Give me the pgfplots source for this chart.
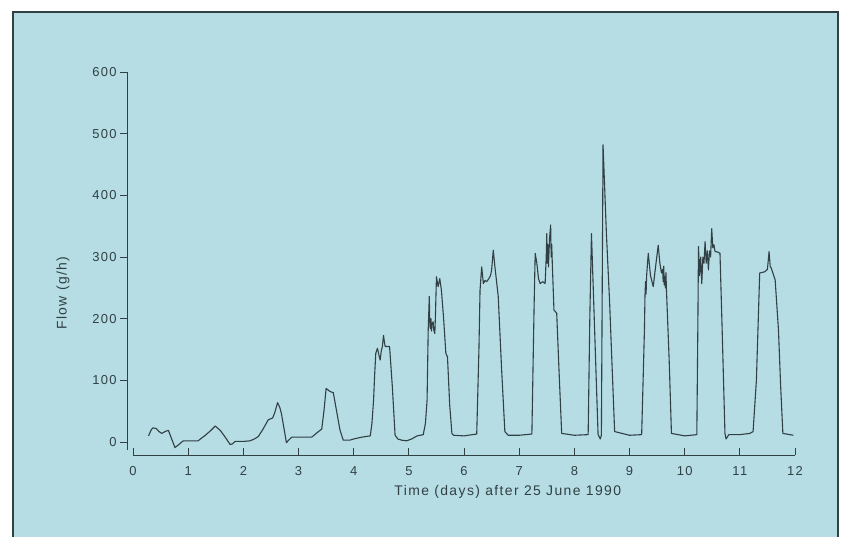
\documentclass[border=0pt]{standalone}
\usepackage{fontspec}
\setmainfont{Liberation Sans}[LetterSpace=10]
\usepackage{pgfplots}
\pgfplotsset{compat=1.18}
\definecolor{bg}{RGB}{182,221,227}
\definecolor{ink}{RGB}{48,64,68}
\pgfplotstableread{
x y
0.28 10
0.33 20
0.36 23
0.42 22
0.47 17
0.52 14
0.58 17
0.64 19
0.70 5
0.76 -9
0.83 -4
0.91 2
1.05 2
1.18 2
1.25 7
1.31 11
1.40 18
1.49 26
1.54 22
1.58 19
1.67 8
1.76 -4
1.80 -3
1.85 1
2.00 1
2.12 2
2.20 5
2.27 9
2.35 20
2.45 36
2.53 39
2.57 48
2.62 64
2.66 56
2.69 46
2.74 20
2.78 -1
2.83 4
2.88 8
3.05 8
3.24 8
3.32 14
3.39 19
3.42 21
3.46 50
3.50 87
3.54 84
3.57 82
3.63 80
3.68 55
3.75 20
3.81 3
3.93 3
4.00 5
4.15 8
4.30 10
4.33 30
4.36 68
4.38 110
4.40 144
4.43 152
4.46 140
4.48 133
4.50 148
4.52 155
4.54 173
4.56 160
4.57 155
4.65 155
4.70 90
4.75 11
4.80 5
4.87 3
4.96 2
5.05 5
5.15 10
5.26 12
5.30 30
5.33 68
5.35 180
5.37 236
5.38 190
5.39 184
5.40 200
5.41 180
5.42 192
5.44 195
5.45 182
5.47 176
5.48 200
5.50 268
5.53 252
5.56 265
5.59 246
5.63 200
5.67 144
5.70 138
5.74 60
5.78 14
5.81 11
6.00 10
6.23 13
6.27 150
6.29 246
6.32 284
6.35 257
6.38 262
6.41 260
6.45 265
6.48 270
6.50 279
6.53 311
6.56 284
6.62 236
6.68 120
6.74 17
6.80 11
7.00 11
7.23 13
7.27 220
7.29 306
7.32 290
7.35 265
7.38 257
7.43 260
7.47 257
7.49 300
7.50 338
7.51 290
7.52 320
7.53 284
7.55 330
7.57 352
7.58 300
7.59 320
7.60 290
7.63 214
7.68 209
7.72 120
7.77 14
8.00 11
8.25 12
8.28 200
8.31 338
8.35 229
8.40 93
8.43 12
8.47 5
8.49 11
8.52 482
8.58 340
8.64 225
8.67 155
8.73 17
9.00 11
9.22 12
9.27 180
9.28 236
9.29 260
9.30 240
9.31 270
9.34 306
9.38 270
9.43 252
9.48 290
9.52 319
9.55 290
9.58 274
9.60 280
9.61 260
9.62 285
9.63 255
9.64 268
9.65 250
9.66 275
9.67 246
9.72 130
9.76 14
10.00 10
10.22 12
10.24 200
10.25 317
10.27 270
10.29 300
10.31 257
10.33 300
10.35 290
10.37 325
10.39 290
10.41 310
10.43 279
10.45 310
10.47 300
10.49 346
10.51 315
10.53 320
10.55 309
10.60 308
10.64 306
10.68 180
10.73 14
10.75 5
10.80 12
11.00 12
11.18 14
11.24 17
11.30 100
11.33 187
11.36 274
11.45 276
11.50 280
11.53 309
11.55 285
11.57 282
11.64 263
11.70 182
11.74 90
11.78 14
11.97 11
}\flowdata
\begin{document}
\begin{tikzpicture}
\fill[white] (0bp,0bp) rectangle (845bp,537bp);
\fill[bg] (13bp,0bp) rectangle (838bp,525bp);
\draw[ink, line width=1.5bp] (13bp,0bp) -- (13bp,525bp) -- (838bp,525bp) -- (838bp,0bp);
\begin{axis}[
  at={(127bp,82bp)}, anchor=south west,
  scale only axis, width=668bp, height=383bp,
  xmin=-0.11, xmax=12, ymin=-21, ymax=600,
  clip=false,
  axis x line*=bottom, axis y line*=left,
  axis line style={draw=none},
  xtick={0,1,...,12}, ytick={0,100,...,600},
  xtick align=inside, ytick align=outside,
  major tick length=7bp,
  tick style={ink, line width=0.8bp},
  /pgf/number format/assume math mode=true,
  ticklabel style={font=\fontsize{13}{15}\selectfont, text=ink},
  xticklabel style={yshift=-8bp},
  xlabel={Time (days) after 25 June 1990},
  ylabel={Flow (g/h)},
  label style={font=\fontsize{14}{16}\selectfont, text=ink},
  xlabel style={at={(rel axis cs:0.570,-0.0966)}, anchor=center},
  ylabel style={at={(rel axis cs:-0.0958,0.423)}, anchor=center},
]
\draw[ink, line width=0.9bp] (axis cs:0,-21) -- (axis cs:12,-21);
\draw[ink, line width=0.9bp] (axis cs:-0.11,-13) -- (axis cs:-0.11,600);
\addplot[ink, line width=1.1bp, line join=round] table {\flowdata};
\end{axis}
\end{tikzpicture}
\end{document}
